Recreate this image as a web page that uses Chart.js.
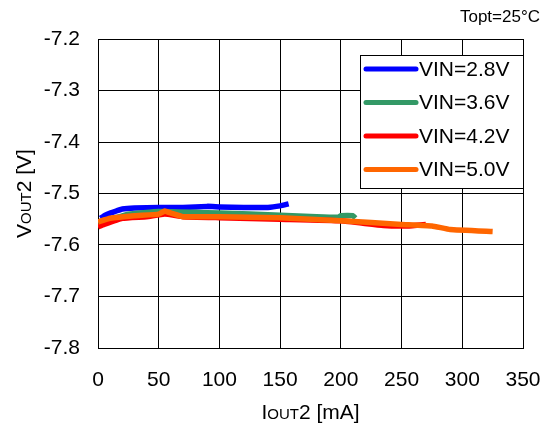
<!DOCTYPE html>
<html>
<head>
<meta charset="utf-8">
<script src="https://cdn.jsdelivr.net/npm/chart.js@4"></script>
<style>
  html, body { margin: 0; padding: 0; background: #fff; }
  #wrap { width: 557px; height: 428px; }
</style>
</head>
<body>
<div id="wrap"><canvas id="vout"></canvas></div>
<script>
'use strict';

// ─── Data (IOUT2 in mA, VOUT2 in V) ──────────────────────────────────────────

const SERIES_LABELS = ['VIN=2.8V', 'VIN=3.6V', 'VIN=4.2V', 'VIN=5.0V'];
const SERIES_COLORS = ['#0000ff', '#339966', '#ff0000', '#ff6600'];

const vin28_i = [2, 6, 10, 15, 20, 30, 50, 70, 90, 100, 120, 140, 150, 157];
const vin28_v = [-7.548, -7.542, -7.538, -7.534, -7.530, -7.528, -7.527, -7.527, -7.525, -7.526, -7.527, -7.527, -7.524, -7.520];

const vin36_i = [0, 10, 25, 50, 100, 150, 180, 198, 200, 210, 212];
const vin36_v = [-7.555, -7.550, -7.540, -7.535, -7.538, -7.542, -7.545, -7.546, -7.543, -7.543, -7.548];

const vin42_i = [0, 5, 20, 40, 55, 70, 100, 150, 200, 235, 255, 270];
const vin42_v = [-7.565, -7.560, -7.548, -7.545, -7.540, -7.545, -7.547, -7.550, -7.553, -7.562, -7.563, -7.560];

const vin50_i = [0, 10, 30, 50, 55, 60, 70, 100, 150, 200, 250, 275, 290, 325];
const vin50_v = [-7.555, -7.548, -7.543, -7.540, -7.534, -7.538, -7.545, -7.545, -7.547, -7.553, -7.560, -7.563, -7.570, -7.574];

const X_TICKS = [0, 50, 100, 150, 200, 250, 300, 350];
const Y_TICKS = [-7.8, -7.7, -7.6, -7.5, -7.4, -7.3, -7.2];

const FONT = "'Liberation Sans', Arial, sans-serif";
const BIG = 21, SMALL = 15;

const pts = (xs, ys) => xs.map((x, k) => ({ x, y: ys[k] }));
const seriesData = [pts(vin28_i, vin28_v), pts(vin36_i, vin36_v), pts(vin42_i, vin42_v), pts(vin50_i, vin50_v)];

// ─── Plugin: axis titles with small caps, temperature note, boxed legend ─────

function drawMixed(ctx, parts, x, y) {
  // parts: [text, size]; drawn left-to-right, centred on x
  let total = 0;
  parts.forEach(([t, s]) => { ctx.font = s + 'px ' + FONT; total += ctx.measureText(t).width; });
  let cx = x - total / 2;
  parts.forEach(([t, s]) => {
    ctx.font = s + 'px ' + FONT;
    ctx.fillText(t, cx, y);
    cx += ctx.measureText(t).width;
  });
}

const annotations = {
  id: 'annotations',
  afterDraw(chart) {
    const { ctx, chartArea: a } = chart;
    ctx.save();
    ctx.fillStyle = '#000';
    ctx.textBaseline = 'alphabetic';
    ctx.textAlign = 'left';

    // x title
    drawMixed(ctx, [['I', BIG], ['OUT', SMALL], ['2 [mA]', BIG]], (a.left + a.right) / 2, 419);

    // y title, rotated
    ctx.save();
    ctx.translate(31, (a.top + a.bottom) / 2);
    ctx.rotate(-Math.PI / 2);
    drawMixed(ctx, [['V', BIG], ['OUT', SMALL], ['2 [V]', BIG]], 0, 0);
    ctx.restore();

    // temperature note
    ctx.font = '17px ' + FONT;
    ctx.textAlign = 'right';
    ctx.fillText('Topt=25°C', 540, 22);

    // legend
    const bx = 360, by = 55, bw = 163, bh = 133;
    ctx.fillStyle = '#fff';
    ctx.fillRect(bx, by, bw, bh);
    ctx.strokeStyle = '#000';
    ctx.lineWidth = 1;
    ctx.strokeRect(bx + 0.5, by + 0.5, bw, bh);
    ctx.textAlign = 'left';
    ctx.textBaseline = 'middle';
    ctx.font = BIG + 'px ' + FONT;
    SERIES_LABELS.forEach((label, k) => {
      const ry = by + 14 + k * 33.5;
      ctx.strokeStyle = SERIES_COLORS[k];
      ctx.lineWidth = 5;
      ctx.lineCap = 'round';
      ctx.beginPath();
      ctx.moveTo(366, ry);
      ctx.lineTo(416, ry);
      ctx.stroke();
      ctx.fillStyle = '#000';
      ctx.fillText(label, 419, ry + 1);
    });
    ctx.restore();
  },
};

// ─── Chart ───────────────────────────────────────────────────────────────────

new Chart(document.getElementById('vout').getContext('2d'), {
  type: 'line',
  data: {
    datasets: SERIES_LABELS.map((label, k) => ({
      label,
      data: seriesData[k],
      borderColor: SERIES_COLORS[k],
      backgroundColor: SERIES_COLORS[k],
      borderWidth: 5.5,
      pointRadius: 0,
      tension: 0.1,
      fill: false,
      order: SERIES_LABELS.length - k,   // last series painted on top
    })),
  },
  options: {
    responsive: true, maintainAspectRatio: false, animation: false,
    layout: { padding: { top: 39, right: 34, left: 0, bottom: 0 } },
    plugins: { legend: { display: false }, tooltip: { enabled: false } },
    scales: {
      x: {
        type: 'linear', min: 0, max: 350,
        afterFit: s => { s.height = 80; s.paddingLeft = 0; s.paddingRight = 0; },
        afterBuildTicks: s => { s.ticks = X_TICKS.map(v => ({ value: v })); },
        grid: { color: '#000', lineWidth: 1, drawTicks: false },
        border: { color: '#000', width: 1 },
        ticks: { color: '#000', font: { family: FONT, size: BIG }, padding: 20, maxRotation: 0 },
      },
      y: {
        type: 'linear', min: -7.8, max: -7.2,
        afterFit: s => { s.width = 98; s.paddingTop = 0; s.paddingBottom = 0; },
        afterBuildTicks: s => { s.ticks = Y_TICKS.map(v => ({ value: v })); },
        grid: { color: '#000', lineWidth: 1, drawTicks: false },
        border: { color: '#000', width: 1 },
        ticks: { color: '#000', font: { family: FONT, size: BIG }, padding: 18, callback: v => v.toFixed(1) },
      },
    },
  },
  plugins: [annotations],
});
</script>
</body>
</html>
